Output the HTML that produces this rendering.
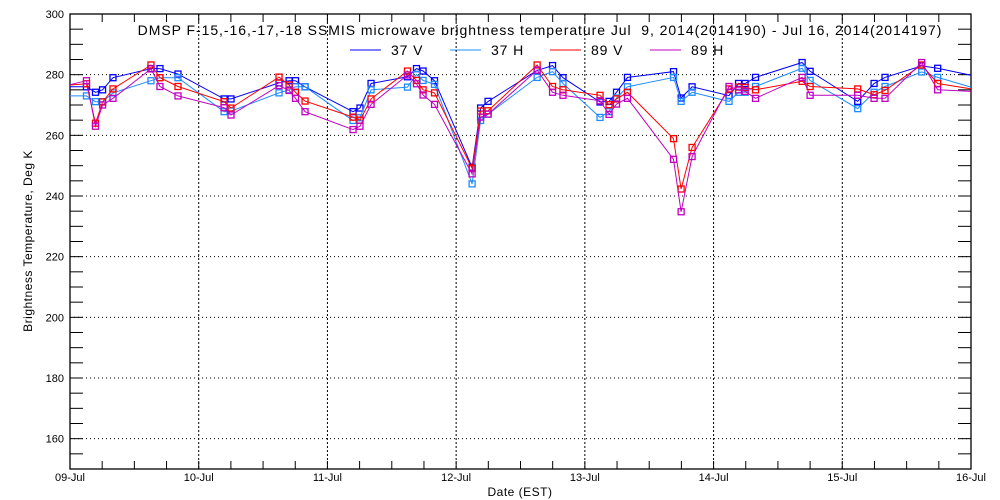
<!DOCTYPE html>
<html><head><meta charset="utf-8"><style>
html,body{margin:0;padding:0;background:#fff;}
svg{display:block;font-family:"Liberation Sans",sans-serif;}
</style></head><body>
<svg id="chart" width="1000" height="500" viewBox="0 0 1000 500" xmlns="http://www.w3.org/2000/svg">
<text x="540" y="35" text-anchor="middle" font-size="14" letter-spacing="0.95">DMSP F-15,-16,-17,-18 SSMIS microwave brightness temperature Jul &#160;9, 2014(2014190) - Jul 16, 2014(2014197)</text>
<g font-size="14" letter-spacing="0.9">
<g><line x1="350" y1="50" x2="381" y2="50" stroke="#0000ff"/><text x="391" y="55">37 V</text></g>
<g><line x1="450" y1="50" x2="481" y2="50" stroke="#1e8cff"/><text x="491" y="55">37 H</text></g>
<g><line x1="550" y1="50" x2="581" y2="50" stroke="#ff0000"/><text x="591" y="55">89 V</text></g>
<g><line x1="650" y1="50" x2="681" y2="50" stroke="#c000c0"/><text x="691" y="55">89 H</text></g>
</g>
<text x="520" y="496" text-anchor="middle" font-size="12" letter-spacing="0.5">Date (EST)</text>
<text transform="translate(32,241) rotate(-90)" text-anchor="middle" font-size="12" letter-spacing="0.5">Brightness Temperature, Deg K</text>
<g id="grid"></g><g id="axes"></g><g id="series"></g>
</svg>
<script>
const xTickLabels = ["09-Jul","10-Jul","11-Jul","12-Jul","13-Jul","14-Jul","15-Jul","16-Jul"];
const yTickLabels = [160,180,200,220,240,260,280,300];
const times = [0,0.128,0.198,0.253,0.334,0.629,0.699,0.839,1.197,1.251,1.624,1.702,1.752,1.826,2.199,2.253,2.339,2.622,2.692,2.743,2.832,3.124,3.190,3.248,3.629,3.749,3.830,4.118,4.188,4.246,4.331,4.689,4.748,4.833,5.120,5.194,5.245,5.326,5.688,5.750,6.120,6.247,6.332,6.617,6.741,7];
const v37V = [276,276,274.2,275,279,282,282,280.2,272,272,277.3,278,278,276,267.8,269,277.1,279.3,282,281.2,278,249.5,269,271.2,281.4,283,279,271,271.2,274.2,279.1,281,272.3,276,273.1,277.1,277.1,279.1,284,281.1,271.2,277.1,279.1,282.9,282.1,279.8];
const v37H = [273,273,271.1,271.1,274,278,279,279,267.8,268,274,275,276,276,264.9,265.8,275,275.9,280.1,278.1,276.8,244,264.9,267,279.1,281,277.1,265.9,267.8,272.3,276,279.1,271.2,274.2,271.2,274.2,274.2,276.1,282.1,278.1,268.8,274.2,276.1,280.9,279.1,275.9];
const v89V = [276.6,277,264,271,275.3,283.2,279,276.1,271.1,269,279.2,276.6,274.2,271.3,266,265,272,281.2,278.1,275,274,249.1,268,268.1,283.2,276.1,275,273.2,270.1,272,274.2,258.9,242.3,256,275.3,275.9,275.8,275,277.8,276.1,275.3,273.4,274.8,283.2,277.1,275.3];
const v89H = [276.7,278,263,270,272.2,281.9,276.1,273,269.1,266.7,276.4,274.8,272.2,267.8,261.9,263,270.2,279.9,277,273.3,270.2,247.3,266,267,281.5,274.2,273.2,271.4,266.9,270.3,272.2,252.1,234.8,253,276.1,275,274.5,272.2,279.1,273.2,273.2,272.2,272.2,284,275,274.5];
const seriesNames = ["37-v","37-h","89-v","89-h"];
const seriesColors = ["#0000ff","#1e8cff","#ff0000","#c000c0"];
const seriesData = [v37V,v37H,v89V,v89H];

const L=70,R=971,T=14,B=469,Y0=150,Y1=300;
const X=d=>L+(R-L)*d/7;
const Y=v=>B-(B-T)*(v-Y0)/(Y1-Y0);
const NS="http://www.w3.org/2000/svg";
function mk(tag,attrs,parent){const e=document.createElementNS(NS,tag);for(const k in attrs)e.setAttribute(k,attrs[k]);parent.appendChild(e);return e;}
const grid=document.getElementById('grid'),axes=document.getElementById('axes'),ser=document.getElementById('series');
yTickLabels.forEach(v=>{if(v>=300)return;
 const g=mk('line',{x1:L,x2:R,y1:Y(v),y2:Y(v),stroke:'#000','stroke-width':1,'stroke-dasharray':'1,3'},grid);
 
 });
xTickLabels.forEach((s,i)=>{if(i==0||i==7)return;
 const g=mk('line',{x1:X(i),x2:X(i),y1:T,y2:B,stroke:'#000','stroke-width':1,'stroke-dasharray':'2,2'},grid);
 
 });
const fr=mk('rect',{x:L,y:T,width:R-L,height:B-T,fill:'none',stroke:'#000','stroke-width':1.3},axes);


for(let v=Y0;v<=Y1;v+=5){const y=Y(v);
 mk('line',{x1:L,x2:L+13,y1:y,y2:y,stroke:'#000','stroke-width':1},axes);
 mk('line',{x1:R-13,x2:R,y1:y,y2:y,stroke:'#000','stroke-width':1},axes);}
yTickLabels.forEach(v=>{const t=mk('text',{x:L-6,y:Y(v)+4,'text-anchor':'end','font-size':11},axes);t.textContent=v;
 
 });
for(let d=0;d<=7.001;d+=0.25){const x=X(d);
 mk('line',{x1:x,x2:x,y1:B-8,y2:B,stroke:'#000','stroke-width':1},axes);
 mk('line',{x1:x,x2:x,y1:T,y2:T+8,stroke:'#000','stroke-width':1},axes);}
xTickLabels.forEach((s,i)=>{const t=mk('text',{x:X(i),y:B+12,'text-anchor':'middle','font-size':11},axes);t.textContent=s;
 
 });
seriesData.forEach((vals,si)=>{
 const g=mk('g',{},ser);
 
 
 const pts=vals.map((v,i)=>X(times[i]).toFixed(1)+','+Y(v).toFixed(1)).join(' ');
 const pl=mk('polyline',{points:pts,fill:'none',stroke:seriesColors[si],'stroke-width':1},g);
 
 
 vals.forEach((v,i)=>{if(i==0||i==vals.length-1)return;
  const r=mk('rect',{x:X(times[i])-3,y:Y(v)-3,width:6,height:6,fill:'none',stroke:seriesColors[si],'stroke-width':1.3},g);
  
  });
});
</script>
</body></html>
